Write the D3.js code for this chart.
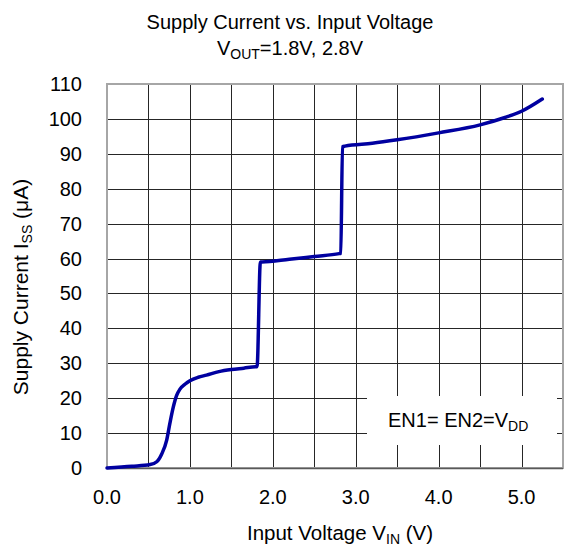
<!DOCTYPE html>
<html>
<head>
<meta charset="utf-8">
<script src="https://cdn.jsdelivr.net/npm/d3@7"></script>
<style>
  html, body { margin: 0; padding: 0; background: #fff; }
  text { font-family: Arial, "Liberation Sans", sans-serif; fill: #000; }
</style>
</head>
<body>
<svg id="chart" width="569" height="546"></svg>
<script>
// ---- data ----
const vin = [0, 0.3, 0.52, 0.6, 0.66, 0.72, 0.76, 0.8, 0.84, 0.88, 0.94, 1.0, 1.1, 1.2, 1.35, 1.5, 1.65, 1.79, 1.81, 1.85, 1.87, 2.2, 2.5, 2.8, 2.82, 2.84, 2.87, 3.2, 3.5, 4.0, 4.5, 4.8, 5.0, 5.25];
const iss = [0, 0.5, 1.0, 1.8, 4, 8, 13, 17.5, 20.8, 22.6, 24, 25, 26, 26.6, 27.6, 28.2, 28.6, 29, 29, 59, 59, 59.8, 60.6, 61.4, 61.5, 92, 92.2, 93, 94, 96, 98.3, 100.4, 102.2, 105.7];
const xTicks = [0, 1, 2, 3, 4, 5];
const xTickLabels = ["0.0", "1.0", "2.0", "3.0", "4.0", "5.0"];
const xGrid = [0.5, 1, 1.5, 2, 2.5, 3, 3.5, 4, 4.5, 5];
const yTicks = [0, 10, 20, 30, 40, 50, 60, 70, 80, 90, 100, 110];

// ---- layout ----
const svg = d3.select("#chart");
const L = 107, R = 563, T = 84, B = 468;
const x = d3.scaleLinear().domain([0, 5.5]).range([L, R]);
const y = d3.scaleLinear().domain([0, 110]).range([B, T]);
const snap = v => Math.round(v) + 0.5;

// grid
const grid = svg.append("g");
grid.selectAll("line.v").data(xGrid).join("line")
  .attr("x1", d => snap(x(d))).attr("x2", d => snap(x(d)))
  .attr("y1", T).attr("y2", B)
  .attr("stroke", "#262626").attr("stroke-width", 1);
grid.selectAll("line.h").data(yTicks.slice(1, -1)).join("line")
  .attr("x1", L).attr("x2", R)
  .attr("y1", d => snap(y(d))).attr("y2", d => snap(y(d)))
  .attr("stroke", "#262626").attr("stroke-width", 1);

// frame
svg.append("rect")
  .attr("x", L).attr("y", T).attr("width", R - L).attr("height", B - T)
  .attr("fill", "none").attr("stroke", "#a6a6a6").attr("stroke-width", 2);
svg.append("line").attr("x1", L).attr("x2", R).attr("y1", B + 0.5).attr("y2", B + 0.5)
  .attr("stroke", "#595959").attr("stroke-width", 1.5);

// annotation box (covers grid)
svg.append("rect").attr("x", 367).attr("y", 396).attr("width", 190).attr("height", 49).attr("fill", "#fff");
const ann = svg.append("text").attr("x", 388).attr("y", 427).attr("font-size", 20);
ann.append("tspan").text("EN1= EN2=V");
ann.append("tspan").attr("font-size", 14).attr("dy", 4).text("DD");

// curve
const line = d3.line().x((d, i) => x(vin[i])).y(d => y(d)).curve(d3.curveMonotoneX);
svg.append("path").datum(iss)
  .attr("d", line)
  .attr("fill", "none").attr("stroke", "#0000a0").attr("stroke-width", 3.5)
  .attr("stroke-linejoin", "round").attr("stroke-linecap", "round");

// y tick labels
svg.append("g").selectAll("text").data(yTicks).join("text")
  .attr("x", 82).attr("y", d => y(d)).attr("dy", "0.35em")
  .attr("text-anchor", "end").attr("font-size", 20)
  .text(d => d);

// x tick labels
svg.append("g").selectAll("text").data(xTicks).join("text")
  .attr("x", d => x(d)).attr("y", 504)
  .attr("text-anchor", "middle").attr("font-size", 20)
  .text((d, i) => xTickLabels[i]);

// title
svg.append("text").attr("x", 290).attr("y", 29).attr("text-anchor", "middle").attr("font-size", 20)
  .text("Supply Current vs. Input Voltage");
const t2 = svg.append("text").attr("x", 290).attr("y", 55).attr("text-anchor", "middle").attr("font-size", 20);
t2.append("tspan").text("V");
t2.append("tspan").attr("font-size", 14).attr("dy", 4).text("OUT");
t2.append("tspan").attr("dy", -4).text("=1.8V, 2.8V");

// x axis title
const xt = svg.append("text").attr("x", 340).attr("y", 540).attr("text-anchor", "middle").attr("font-size", 20.5);
xt.append("tspan").text("Input Voltage V");
xt.append("tspan").attr("font-size", 14).attr("dy", 4).text("IN");
xt.append("tspan").attr("dy", -4).text(" (V)");

// y axis title
const yt = svg.append("text").attr("transform", "translate(28,287) rotate(-90)")
  .attr("text-anchor", "middle").attr("font-size", 21);
yt.append("tspan").text("Supply Current I");
yt.append("tspan").attr("font-size", 14).attr("dy", 4).text("SS");
yt.append("tspan").attr("dy", -4).text(" (μA)");
</script>
</body>
</html>
